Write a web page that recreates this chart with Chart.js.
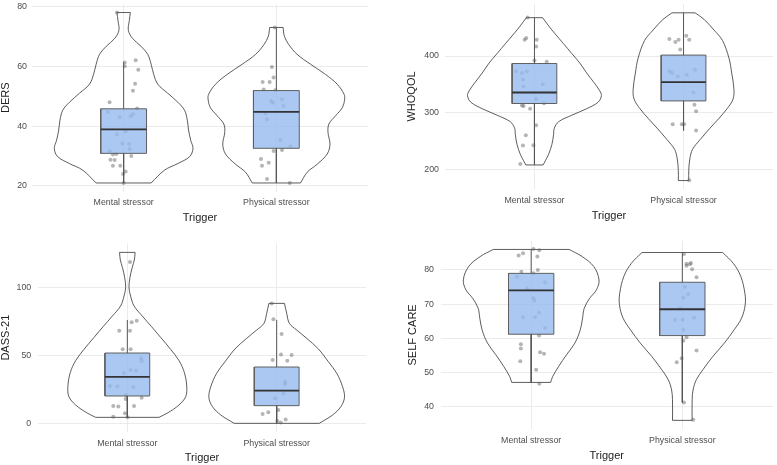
<!DOCTYPE html>
<html>
<head>
<meta charset="utf-8">
<script src="https://cdn.jsdelivr.net/npm/chart.js@4.4.1/dist/chart.umd.min.js"></script>
<style>
  html, body { margin: 0; padding: 0; background: #fff; }
  #wrap { position: relative; width: 777px; height: 465px; overflow: hidden; }
  #wrap canvas { position: absolute; }
</style>
</head>
<body>
<div id="wrap">
  <canvas id="c1" width="372" height="230" style="left:0;top:0"></canvas>
  <canvas id="c2" width="389" height="230" style="left:388px;top:0"></canvas>
  <canvas id="c3" width="372" height="235" style="left:0;top:230px"></canvas>
  <canvas id="c4" width="389" height="235" style="left:388px;top:230px"></canvas>
</div>
<script>
const categories = ['Mental stressor', 'Physical stressor'];

// box stats: lower whisker, q1, median, q3, upper whisker
// DERS
const dersTicks = [20, 40, 60, 80];
const dersBoxMental = [21, 30.9, 38.9, 45.8, 61.4];
const dersBoxPhysical = [21, 32.6, 44.8, 51.9, 73];
const dersMentalY = [78, 61.3, 60, 62, 58.9, 54.2, 51.8, 48, 45.9, 44.7, 44, 43.3, 43, 37.3, 38.3, 34.2, 34, 32.4, 31.6, 30.5, 30.7, 30, 28.8, 28.7, 26.8, 26.8, 24.8, 24, 21];
const dersMentalJitter = [-0.044, 0.007, 0.007, 0.079, 0.096, 0.075, 0.061, -0.092, 0.088, -0.103, 0.061, 0.046, -0.026, -0.044, 0.013, -0.009, 0.035, 0.039, -0.092, -0.070, -0.048, 0.050, -0.086, -0.059, -0.070, -0.022, 0.013, -0.004, 0];
const dersPhysicalY = [73, 59.8, 56.3, 54.8, 54.8, 52.3, 52, 48.4, 49, 46.7, 44.2, 42.3, 35.3, 31.7, 32, 29, 26.8, 27.8, 22.3, 21, 33.3, 47.8];
const dersPhysicalJitter = [-0.011, -0.029, -0.018, -0.09, -0.044, -0.083, -0.007, -0.035, 0.037, 0.048, -0.072, -0.061, 0.026, -0.018, 0.037, -0.101, -0.094, -0.050, -0.061, 0.088, 0.092, -0.022];
const dersViolinMentalY = [78, 75.3, 72, 69.3, 66.7, 64, 60.7, 57.3, 54, 51, 48, 45.3, 42, 38.7, 35.3, 32.5, 29.8, 27.5, 25.3, 21];
const dersViolinMentalW = [0.044, 0.037, 0.031, 0.059, 0.114, 0.158, 0.180, 0.197, 0.224, 0.289, 0.355, 0.399, 0.417, 0.425, 0.439, 0.454, 0.432, 0.355, 0.268, 0.180];
const dersViolinPhysicalY = [73, 70, 67.3, 64, 60.7, 57.3, 54, 50.7, 49, 46.2, 43.5, 40.7, 37.9, 34, 30.7, 27.3, 24.6, 21];
const dersViolinPhysicalW = [0.044, 0.053, 0.081, 0.136, 0.224, 0.322, 0.399, 0.443, 0.447, 0.432, 0.388, 0.344, 0.338, 0.351, 0.333, 0.268, 0.202, 0.158];

// WHOQOL
const whoqolTicks = [200, 300, 400];
const whoqolBoxMental = [208, 316.1, 335.6, 386.8, 468];
const whoqolBoxPhysical = [268.4, 320.7, 354, 401.7, 476.5];
const whoqolMentalY = [468, 432, 428.7, 428.7, 417, 392, 390, 373, 370, 373, 358.6, 346, 350, 324, 316.7, 312.6, 311.5, 307, 277.6, 259.8, 242.5, 242, 209];
const whoqolMentalJitter = [-0.046, -0.055, -0.066, 0.015, 0.011, 0, 0.082, -0.125, -0.084, -0.051, -0.077, -0.073, 0.055, 0.011, 0.064, -0.084, -0.073, -0.029, 0.011, -0.058, -0.007, -0.077, -0.095];
const whoqolPhysicalY = [180.5, 430, 424.7, 428.7, 428.7, 436, 411.5, 373, 370, 367, 364, 376, 335.6, 313.8, 302.3, 279.3, 279.3, 279.3, 268.4];
const whoqolPhysicalJitter = [0.038, -0.095, -0.055, -0.033, 0.038, 0.018, -0.022, -0.095, -0.077, 0.022, -0.038, 0.077, 0.066, 0.073, 0.084, -0.073, -0.011, 0.004, 0.084];
const whoqolViolinMentalY = [467.8, 453.4, 439.1, 421.8, 404.6, 387.4, 370.1, 352.9, 338.5, 329.9, 318.4, 306.9, 295.4, 283.9, 272.4, 260.9, 243.7, 226.4, 214.9, 207.5];
const whoqolViolinMentalW = [0.055, 0.095, 0.139, 0.195, 0.25, 0.305, 0.350, 0.400, 0.438, 0.449, 0.427, 0.350, 0.25, 0.162, 0.133, 0.128, 0.117, 0.095, 0.073, 0.058];
const whoqolViolinPhysicalY = [476.4, 465, 446, 427.6, 396, 370, 341.4, 324, 306.9, 289.7, 272.4, 252.3, 235, 217.8, 197.7, 179.9];
const whoqolViolinPhysicalW = [0.077, 0.137, 0.204, 0.261, 0.305, 0.323, 0.338, 0.332, 0.292, 0.237, 0.177, 0.111, 0.060, 0.042, 0.035, 0.035];

// DASS-21
const dassTicks = [0, 50, 100];
const dassBoxMental = [4.4, 20.1, 34.1, 51.7, 76];
const dassBoxPhysical = [0, 13, 24, 41.4, 76];
const dassMentalY = [118.6, 74.3, 75.5, 68.1, 68.1, 54.4, 54.4, 47.8, 45.8, 39.2, 38.7, 36.8, 27.5, 27, 26.5, 20.8, 18.9, 17.9, 12.7, 12.3, 12.7, 7.4, 4.9, 4.4];
const dassMentalJitter = [0.018, 0.029, 0.063, -0.054, 0.018, -0.031, 0.022, 0.092, 0.096, 0.022, 0.058, -0.022, -0.116, -0.067, 0.040, -0.009, 0.096, -0.011, -0.094, -0.060, 0.045, -0.016, -0.094, 0.002];
const dassPhysicalY = [88.2, 76.5, 65.7, 46.6, 50.7, 50.2, 46, 30.6, 28.9, 22, 18.4, 9.8, 8.1, 6.9, 1.7, 0.7, 2.9];
const dassPhysicalJitter = [-0.033, -0.022, 0.033, -0.027, 0.029, 0.100, 0.071, 0.056, 0.056, 0.045, -0.011, 0.011, -0.056, -0.094, 0.004, 0.027, 0.060];
const dassViolinMentalY = [125.7, 120.1, 114.7, 107.4, 100, 93.6, 86.3, 78.9, 71.1, 63.2, 54.4, 46.1, 37.3, 27, 19.6, 13.5, 7.8, 4.4];
const dassViolinMentalW = [0.052, 0.047, 0.033, 0.018, 0.011, 0.022, 0.045, 0.100, 0.162, 0.223, 0.290, 0.346, 0.382, 0.398, 0.391, 0.346, 0.272, 0.212];
const dassViolinPhysicalY = [88.2, 80.9, 73.5, 68.6, 62.5, 54.7, 45.3, 36.8, 27, 19.1, 12.3, 6.1, 0];
const dassViolinPhysicalW = [0.052, 0.067, 0.085, 0.134, 0.201, 0.279, 0.346, 0.402, 0.441, 0.454, 0.430, 0.374, 0.285];

// SELF CARE
const selfTicks = [40, 50, 60, 70, 80];
const selfBoxMental = [47, 61.2, 74, 79, 86];
const selfBoxPhysical = [41.2, 60.8, 68.5, 76.4, 85.1];
const selfMentalY = [86.1, 85.8, 84.2, 84.9, 83.9, 79.5, 80, 79, 78, 76.3, 74.6, 71.7, 71, 67.5, 66.2, 66.2, 63, 60.8, 58.3, 57, 55.9, 55.5, 53.3, 50.8, 46.7];
const selfMentalJitter = [0.015, 0.054, -0.083, -0.054, 0.041, -0.065, 0.044, 0.015, -0.094, 0.092, -0.028, 0.015, 0.022, 0.052, -0.054, 0.026, 0.092, 0.052, -0.068, -0.068, 0.059, 0.085, -0.072, 0.033, 0.054];
const selfPhysicalY = [84.7, 82, 81.8, 81.7, 81.2, 80.2, 77.9, 75, 72.9, 71.9, 68.8, 65.4, 65.4, 66.1, 62.5, 60.3, 59.3, 56.4, 54.2, 53, 41.2, 36.2];
const selfPhysicalJitter = [0.011, 0.057, 0.028, 0.050, 0.028, 0.065, 0.094, 0.017, 0.039, 0.007, -0.015, 0.002, -0.048, 0.078, 0.007, 0.028, 0.007, 0.094, -0.004, -0.037, 0.011, 0.072];
const selfViolinMentalY = [86, 83.9, 81, 77.1, 74.2, 71.7, 68.8, 65.9, 62.5, 58.6, 55.2, 51.8, 48.8, 47.1];
const selfViolinMentalW = [0.251, 0.338, 0.414, 0.449, 0.432, 0.387, 0.351, 0.340, 0.325, 0.289, 0.234, 0.182, 0.142, 0.129];
const selfViolinPhysicalY = [85.1, 81.9, 78.1, 73.2, 69.8, 65.9, 62.5, 58.6, 54.7, 50.8, 47.9, 44.9, 42, 36];
const selfViolinPhysicalW = [0.267, 0.338, 0.387, 0.414, 0.416, 0.392, 0.343, 0.278, 0.202, 0.136, 0.093, 0.071, 0.065, 0.065];

const FONT = "'Liberation Sans', Arial, Helvetica, sans-serif";
const BOX_HALF = 0.15;

function line(pts, opts) {
    return Object.assign({
        data: pts, showLine: true, pointRadius: 0, borderColor: '#333', borderWidth: 0.8,
        fill: false, tension: 0, order: 5
    }, opts || {});
}

function violin(c, ys, ws) {
    var n = ys.length - 1;
    var right = ys.map(function(y, i) { return {x: c + ws[i], y: y}; });
    var left = ys.map(function(y, i) { return {x: c - ws[i], y: y}; });
    return [
        line(right, {tension: 0.35}),
        line(left, {tension: 0.35}),
        line([{x: c - ws[0], y: ys[0]}, {x: c + ws[0], y: ys[0]}]),
        line([{x: c - ws[n], y: ys[n]}, {x: c + ws[n], y: ys[n]}])
    ];
}

function boxplot(c, s) {
    var l = c - BOX_HALF, r = c + BOX_HALF;
    return [
        line([{x: l, y: s[1]}, {x: r, y: s[1]}, {x: r, y: s[3]}, {x: l, y: s[3]}, {x: l, y: s[1]}],
            {fill: 'shape', backgroundColor: 'rgba(150,186,239,0.8)', borderColor: '#5f5f5f', borderWidth: 1, order: 3}),
        line([{x: c, y: s[3]}, {x: c, y: s[4]}], {borderColor: '#555', borderWidth: 1, order: 2}),
        line([{x: c, y: s[1]}, {x: c, y: s[0]}], {borderColor: '#555', borderWidth: 1, order: 2}),
        line([{x: l, y: s[2]}, {x: r, y: s[2]}], {borderColor: '#333', borderWidth: 1.8, order: 1})
    ];
}

function jitter(c, ys, js) {
    return {
        data: ys.map(function(y, i) { return {x: c + js[i], y: y}; }),
        pointRadius: 2, pointBorderWidth: 0, pointBackgroundColor: 'rgba(90,90,90,0.45)', order: 4
    };
}

function makePanel(id, p) {
    var ds = [].concat(
        violin(1, p.vm[0], p.vm[1]), violin(2, p.vp[0], p.vp[1]),
        jitter(1, p.pm[0], p.pm[1]), jitter(2, p.pp[0], p.pp[1]),
        boxplot(1, p.bm), boxplot(2, p.bp)
    );
    var g = p.geo;
    new Chart(document.getElementById(id), {
        type: 'scatter',
        data: { datasets: ds },
        options: {
            responsive: false,
            animation: false,
            layout: { padding: { left: 0, top: g.top, right: g.right, bottom: 0 } },
            plugins: { legend: { display: false }, tooltip: { enabled: false } },
            scales: {
                x: {
                    type: 'linear', min: 0.4, max: 2.6,
                    afterBuildTicks: function(s) { s.ticks = [{value: 1}, {value: 2}]; },
                    afterFit: function(s) { s.height = g.xh; s.paddingLeft = 0; s.paddingRight = 0; },
                    grid: { color: '#ebebeb', lineWidth: 1, drawTicks: false },
                    border: { display: false },
                    ticks: {
                        padding: g.xtp, color: '#4d4d4d', font: { family: FONT, size: 8.8 },
                        callback: function(v) { return categories[v - 1]; }
                    },
                    title: { display: true, text: 'Trigger', color: '#222', padding: { top: 0, bottom: g.xtitle },
                        font: { family: FONT, size: 11 } }
                },
                y: {
                    type: 'linear', min: p.min, max: p.max,
                    afterBuildTicks: function(s) { s.ticks = p.ticks.map(function(v) { return {value: v}; }); },
                    afterFit: function(s) { s.width = g.yw; s.paddingTop = 0; s.paddingBottom = 0; },
                    grid: { color: '#ebebeb', lineWidth: 1, drawTicks: false },
                    border: { display: false },
                    ticks: { padding: g.ytp, color: '#4d4d4d', font: { family: FONT, size: 8.8 } },
                    title: { display: true, text: p.title, color: '#222', padding: { top: g.ytitle, bottom: 0 },
                        font: { family: FONT, size: 11, lineHeight: 1 } }
                }
            }
        }
    });
}

makePanel('c1', {
    title: 'DERS', min: 18.15, max: 80.85, ticks: dersTicks,
    bm: dersBoxMental, bp: dersBoxPhysical,
    pm: [dersMentalY, dersMentalJitter], pp: [dersPhysicalY, dersPhysicalJitter],
    vm: [dersViolinMentalY, dersViolinMentalW], vp: [dersViolinPhysicalY, dersViolinPhysicalW],
    geo: { top: 3.5, right: 4, yw: 32, xh: 38.5, ytp: 5, xtp: 6, xtitle: 5.4, ytitle: 0 }
});
makePanel('c2', {
    title: 'WHOQOL', min: 165, max: 492, ticks: whoqolTicks,
    bm: whoqolBoxMental, bp: whoqolBoxPhysical,
    pm: [whoqolMentalY, whoqolMentalJitter], pp: [whoqolPhysicalY, whoqolPhysicalJitter],
    vm: [whoqolViolinMentalY, whoqolViolinMentalW], vp: [whoqolViolinPhysicalY, whoqolViolinPhysicalW],
    geo: { top: 0, right: 0, yw: 57, xh: 41, ytp: 6, xtp: 6.5, xtitle: 7.7, ytitle: 18.5 }
});
makePanel('c3', {
    title: 'DASS-21', min: -6.3, max: 132.3, ticks: dassTicks,
    bm: dassBoxMental, bp: dassBoxPhysical,
    pm: [dassMentalY, dassMentalJitter], pp: [dassPhysicalY, dassPhysicalJitter],
    vm: [dassViolinMentalY, dassViolinMentalW], vp: [dassViolinPhysicalY, dassViolinPhysicalW],
    geo: { top: 13.4, right: 5.7, yw: 37.7, xh: 33.1, ytp: 6.5, xtp: 5.9, xtitle: 0.1, ytitle: 0 }
});
makePanel('c4', {
    title: 'SELF CARE', min: 33.5, max: 88.5, ticks: selfTicks,
    bm: selfBoxMental, bp: selfBoxPhysical,
    pm: [selfMentalY, selfMentalJitter], pp: [selfPhysicalY, selfPhysicalJitter],
    vm: [selfViolinMentalY, selfViolinMentalW], vp: [selfViolinPhysicalY, selfViolinPhysicalW],
    geo: { top: 10.9, right: 0, yw: 52.5, xh: 36.1, ytp: 6.5, xtp: 6.6, xtitle: 2.4, ytitle: 19.5 }
});
</script>
</body>
</html>
